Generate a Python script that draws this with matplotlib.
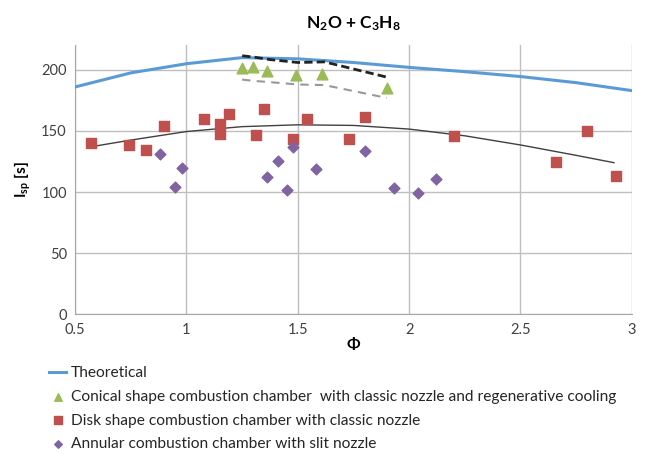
import matplotlib
matplotlib.use("Agg")
import matplotlib.pyplot as plt

plt.rcParams['font.family'] = ['Lato', 'DejaVu Sans']
plt.rcParams['mathtext.fontset'] = 'custom'
plt.rcParams['mathtext.rm'] = 'Lato'
plt.rcParams['mathtext.bf'] = 'Lato:bold'
plt.rcParams['mathtext.default'] = 'bf'

# theoretical curve
theo_phi = [0.5, 0.75, 1.0, 1.25, 1.5, 1.75, 2.0, 2.25, 2.5, 2.75, 3.0]
theo_isp = [186, 197.5, 205, 210, 209, 206, 202, 198.5, 194.5, 189.5, 183]

# trend line through disk data
trend_phi = [0.57, 0.75, 1.0, 1.25, 1.5, 1.75, 2.0, 2.25, 2.5, 2.75, 2.92]
trend_isp = [137, 142.5, 149.5, 153.5, 155, 154.5, 151.5, 146, 138.5, 130, 124]

# dashed envelopes around conical data
dash_phi = [1.25, 1.30, 1.37, 1.50, 1.62, 1.90]
dash_hi = [211.5, 210.5, 208.5, 206, 206.5, 194]
dash_lo = [192, 191, 190, 188, 187.5, 177]

cone_phi = [1.25, 1.30, 1.36, 1.49, 1.61, 1.90]
cone_isp = [201.5, 202.5, 199, 196, 196.5, 185]

disk_phi = [0.57, 0.74, 0.82, 0.90, 1.08, 1.15, 1.15, 1.19, 1.31, 1.35,
            1.48, 1.54, 1.73, 1.80, 2.20, 2.66, 2.80, 2.93]
disk_isp = [140.5, 138.5, 134.5, 154, 160, 156, 147.5, 163.5, 146.5, 168,
            143.5, 159.5, 143.5, 161.5, 146, 124.5, 150, 113.5]

ann_phi = [0.88, 0.95, 0.98, 1.36, 1.41, 1.45, 1.48, 1.58, 1.80, 1.93, 2.04, 2.12]
ann_isp = [131.5, 104, 119.5, 112, 125.5, 101.5, 136.5, 119, 133.5, 103.5, 99, 111]

fig = plt.figure(figsize=(6.48, 4.54), dpi=100)
ax = fig.add_axes([0.116, 0.308, 0.859, 0.592])

ax.plot(theo_phi, theo_isp, color='#5B9BD5', lw=2.2, label='Theoretical', zorder=3)
ax.plot(trend_phi, trend_isp, color='#404040', lw=1.0, zorder=3)
ax.plot(dash_phi, dash_hi, color='#222222', lw=2.0, ls=(0, (3, 1.5)), zorder=3)
ax.plot(dash_phi, dash_lo, color='#999999', lw=1.5, ls=(0, (4, 3)), zorder=3)
ax.scatter(cone_phi, cone_isp, marker='^', s=60, color='#9BBB59',
           label='Conical shape combustion chamber  with classic nozzle and regenerative cooling', zorder=4)
ax.scatter(disk_phi, disk_isp, marker='s', s=60, color='#C0504D',
           label='Disk shape combustion chamber with classic nozzle', zorder=4)
ax.scatter(ann_phi, ann_isp, marker='D', s=30, color='#8064A2',
           label='Annular combustion chamber with slit nozzle', zorder=4)

ax.set_xlim(0.5, 3)
ax.set_ylim(0, 220)
ax.set_xticks([0.5, 1, 1.5, 2, 2.5, 3])
ax.set_xticklabels(['0.5', '1', '1.5', '2', '2.5', '3'])
ax.set_yticks([0, 50, 100, 150, 200])
ax.grid(True, color='#BFBFBF', lw=1.0)
ax.set_axisbelow(True)
for s in ['top', 'right']:
    ax.spines[s].set_visible(False)
for s in ['left', 'bottom']:
    ax.spines[s].set_color('#A6A6A6')
ax.tick_params(length=0, labelsize=10.5, colors='#404040', pad=6)

ax.set_title(r'N$_2$O + C$_3$H$_8$', fontsize=12.5, fontweight='bold', pad=12)
ax.set_ylabel(r'I$_{sp}$ [s]', fontsize=11, fontweight='bold', labelpad=6)
ax.set_xlabel('Φ', fontsize=11.5, fontweight='bold', labelpad=1)

fig.legend(loc='upper left', bbox_to_anchor=(0.066, 0.207), frameon=False,
           fontsize=11.2, handlelength=1.1, handletextpad=0.3, labelspacing=0.62,
           borderaxespad=0, labelcolor='#262626', markerscale=0.7)

fig.savefig('out.png', dpi=100)
